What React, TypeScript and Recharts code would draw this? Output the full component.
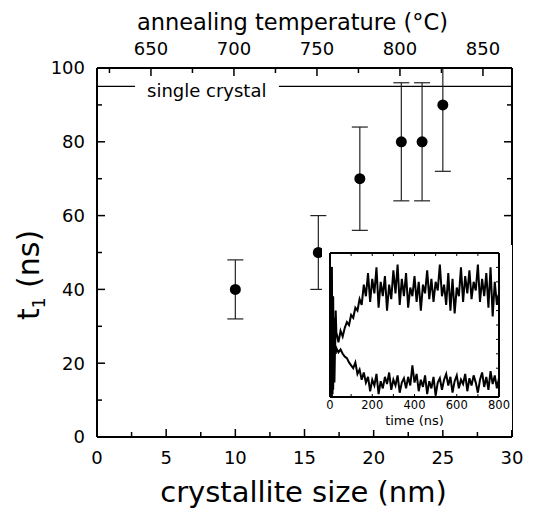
import React from "react"
import {
    ScatterChart,
    Scatter,
    ErrorBar,
    XAxis,
    YAxis,
    ReferenceLine,
    LineChart,
    Line,
} from "recharts"

const FONT = '"DejaVu Sans", "Liberation Sans", sans-serif'

// main panel: t1 vs crystallite size
const crystalliteSize = [10, 16, 19, 22, 23.5, 25]
const t1Values = [40, 50, 70, 80, 80, 90]
const t1ErrLow = [8, 10, 14, 16, 16, 18]
// last bar runs off the top of the frame, only the visible part is known
const t1ErrHigh = [8, 10, 14, 16, 16, 10]

const sizeTicks = [0, 2.5, 5, 7.5, 10, 12.5, 15, 17.5, 20, 22.5, 25, 27.5, 30]
const t1Ticks = [0, 10, 20, 30, 40, 50, 60, 70, 80, 90, 100]
const tempTicks = [625, 650, 675, 700, 725, 750, 775, 800, 825, 850]
const tempDomain = [617.5, 867.5]
const singleCrystal = 95

// inset: time traces
const timeNs = [
    0, 3, 6, 9, 12, 15, 18, 21, 24, 27, 30,
    40, 50, 60, 70, 80, 90, 100, 110, 120, 130,
    140, 150, 160, 170, 180, 190, 200, 210, 220, 230,
    240, 250, 260, 270, 280, 290, 300, 310, 320, 330,
    340, 350, 360, 370, 380, 390, 400, 410, 420, 430,
    440, 450, 460, 470, 480, 490, 500, 510, 520, 530,
    540, 550, 560, 570, 580, 590, 600, 610, 620, 630,
    640, 650, 660, 670, 680, 690, 700, 710, 720, 730,
    740, 750, 760, 770, 780, 790, 800,
]
const riseTrace = [
    0.05, 0.8, 0.1, 0.9, 0.02, 0.7, 0.15, 0.55, 0.3, 0.6, 0.45,
    0.38, 0.46, 0.42, 0.48, 0.52, 0.5, 0.57, 0.55, 0.62, 0.6,
    0.68, 0.64, 0.78, 0.7, 0.86, 0.66, 0.82, 0.72, 0.9, 0.62,
    0.8, 0.7, 0.84, 0.6, 0.78, 0.68, 0.88, 0.72, 0.92, 0.64,
    0.82, 0.7, 0.86, 0.62, 0.76, 0.7, 0.84, 0.66, 0.8, 0.6,
    0.78, 0.72, 0.88, 0.68, 0.82, 0.66, 0.8, 0.74, 0.92, 0.7,
    0.78, 0.64, 0.86, 0.6, 0.82, 0.58, 0.76, 0.7, 0.9, 0.66,
    0.84, 0.72, 0.88, 0.68, 0.8, 0.74, 0.92, 0.66, 0.82, 0.7,
    0.86, 0.62, 0.9, 0.56, 0.8, 0.64, 0.72,
]
const decayTrace = [
    0.6, 0.02, 0.7, 0.0, 0.5, 0.05, 0.42, 0.1, 0.36, 0.3, 0.34,
    0.31, 0.33, 0.3, 0.28, 0.27, 0.24, 0.22, 0.2, 0.24, 0.16,
    0.19, 0.12, 0.17, 0.1, 0.14, 0.04, 0.12, 0.08, 0.16, 0.02,
    0.11, 0.06, 0.14, 0.09, 0.17, 0.05, 0.12, 0.08, 0.15, 0.03,
    0.1, 0.13, 0.06, 0.14, 0.08, 0.22, 0.1, 0.16, 0.04, 0.12,
    0.07, 0.15, 0.02, 0.11, 0.06, 0.14, 0.01, 0.1, 0.13, 0.05,
    0.12, 0.16, 0.08, 0.14, 0.03, 0.11, 0.15, 0.06, 0.12, 0.09,
    0.16, 0.04, 0.13, 0.08, 0.15, 0.1, 0.03, 0.12, 0.17, 0.07,
    0.14, 0.05, 0.18, 0.09, 0.15, 0.06, 0.13,
]
const timeTicks = [0, 100, 200, 300, 400, 500, 600, 700, 800]
const insetYTicks = [0, 0.1, 0.2, 0.3, 0.4, 0.5, 0.6, 0.7, 0.8, 0.9, 1]

const points = crystalliteSize.map((s, i) => ({
    size: s,
    t1: t1Values[i],
    err: [t1ErrLow[i], t1ErrHigh[i]],
}))
// invisible anchor so the temperature axis gets a domain
const tempAnchor = tempTicks.map((t) => ({ temp: t, t1: 50 }))
const insetData = timeNs.map((t, i) => ({ t, rise: riseTrace[i], decay: decayTrace[i] }))

type TickProps = { x?: number; y?: number; payload?: { value: number } }

const BottomTick = ({ x = 0, y = 0, payload }: TickProps) => {
    const v = payload?.value ?? 0
    const major = v % 5 === 0
    return (
        <g>
            <line x1={x} x2={x} y1={y} y2={y - (major ? 8 : 5)} stroke="#000" strokeWidth={1.5} />
            {major && (
                <text x={x} y={y + 27} textAnchor="middle" fontSize={18} fontFamily={FONT} fill="#000">
                    {v}
                </text>
            )}
        </g>
    )
}

const TopTick = ({ x = 0, y = 0, payload }: TickProps) => {
    const v = payload?.value ?? 0
    const major = v % 50 === 0
    return (
        <g>
            <line x1={x} x2={x} y1={y} y2={y + (major ? 8 : 5)} stroke="#000" strokeWidth={1.5} />
            {major && (
                <text x={x} y={y - 13} textAnchor="middle" fontSize={18} fontFamily={FONT} fill="#000">
                    {v}
                </text>
            )}
        </g>
    )
}

const LeftTick = ({ x = 0, y = 0, payload }: TickProps) => {
    const v = payload?.value ?? 0
    const major = v % 20 === 0
    return (
        <g>
            <line x1={x} x2={x + (major ? 8 : 5)} y1={y} y2={y} stroke="#000" strokeWidth={1.5} />
            {major && (
                <text x={x - 12} y={y} dy="0.36em" textAnchor="end" fontSize={18} fontFamily={FONT} fill="#000">
                    {v}
                </text>
            )}
        </g>
    )
}

const RightTick = ({ x = 0, y = 0, payload }: TickProps) => {
    const v = payload?.value ?? 0
    const major = v % 20 === 0
    return <line x1={x} x2={x - (major ? 8 : 5)} y1={y} y2={y} stroke="#000" strokeWidth={1.5} />
}

const InsetBottomTick = ({ x = 0, y = 0, payload }: TickProps) => {
    const v = payload?.value ?? 0
    return (
        <g>
            <line x1={x} x2={x} y1={y} y2={y - 3} stroke="#000" strokeWidth={1} />
            {v % 200 === 0 && (
                <text x={x} y={y + 12} textAnchor="middle" fontSize={11.5} fontFamily={FONT} fill="#000">
                    {v}
                </text>
            )}
        </g>
    )
}
const InsetTopTick = ({ x = 0, y = 0 }: TickProps) => (
    <line x1={x} x2={x} y1={y} y2={y + 3} stroke="#000" strokeWidth={1} />
)
const InsetLeftTick = ({ x = 0, y = 0 }: TickProps) => (
    <line x1={x} x2={x + 3} y1={y} y2={y} stroke="#000" strokeWidth={1} />
)
const InsetRightTick = ({ x = 0, y = 0 }: TickProps) => (
    <line x1={x} x2={x - 3} y1={y} y2={y} stroke="#000" strokeWidth={1} />
)

const axisLine = { stroke: "#000", strokeWidth: 2 }

export default function App() {
    return (
        <div style={{ position: "absolute", left: 0, top: 0, width: 535, height: 510, background: "#fff", fontFamily: FONT }}>
            <ScatterChart width={535} height={510} margin={{ top: 28, right: 13, bottom: 33, left: 37 }}>
                <XAxis
                    dataKey="size"
                    type="number"
                    domain={[0, 30]}
                    ticks={sizeTicks}
                    interval={0}
                    allowDataOverflow
                    height={40}
                    tickSize={0}
                    tickMargin={0}
                    axisLine={axisLine}
                    tick={<BottomTick />}
                    label={{
                        content: (p: any) => (
                            <text x={p.viewBox.x + p.viewBox.width / 2 - 1} y={p.viewBox.y + 65} textAnchor="middle" fontSize={29} fontFamily={FONT} fill="#000">
                                crystallite size (nm)
                            </text>
                        ),
                    }}
                />
                <XAxis
                    xAxisId="temp"
                    dataKey="temp"
                    orientation="top"
                    type="number"
                    domain={tempDomain}
                    ticks={tempTicks}
                    interval={0}
                    allowDataOverflow
                    height={40}
                    tickSize={0}
                    tickMargin={0}
                    axisLine={axisLine}
                    tick={<TopTick />}
                    label={{
                        content: (p: any) => (
                            <text x={p.viewBox.x + p.viewBox.width / 2 - 12} y={p.viewBox.y + 2} textAnchor="middle" fontSize={22.5} fontFamily={FONT} fill="#000">
                                annealing temperature (°C)
                            </text>
                        ),
                    }}
                />
                <YAxis
                    dataKey="t1"
                    type="number"
                    domain={[0, 100]}
                    ticks={t1Ticks}
                    interval={0}
                    allowDataOverflow
                    width={60}
                    tickSize={0}
                    tickMargin={0}
                    axisLine={axisLine}
                    tick={<LeftTick />}
                    label={{
                        content: (p: any) => {
                            const lx = p.viewBox.x + 2
                            const ly = p.viewBox.y + 207
                            return (
                                <text x={lx} y={ly} transform={`rotate(-90, ${lx}, ${ly})`} textAnchor="middle" fontSize={30} fontFamily={FONT} fill="#000">
                                    t<tspan fontSize={17} dy={6}>1</tspan>
                                    <tspan dy={-6}> (ns)</tspan>
                                </text>
                            )
                        },
                    }}
                />
                <YAxis
                    yAxisId="right"
                    orientation="right"
                    type="number"
                    domain={[0, 100]}
                    ticks={t1Ticks}
                    interval={0}
                    allowDataOverflow
                    width={10}
                    tickSize={0}
                    tickMargin={0}
                    axisLine={axisLine}
                    tick={<RightTick />}
                />
                <ReferenceLine
                    segment={[{ x: 0, y: singleCrystal }, { x: 2.75, y: singleCrystal }]}
                    stroke="#000"
                    strokeWidth={1.2}
                    label={{
                        content: (p: any) => (
                            <text x={p.viewBox.x + p.viewBox.width + 12} y={p.viewBox.y + 11} fontSize={18} fontFamily={FONT} fill="#000">
                                single crystal
                            </text>
                        ),
                    }}
                />
                <ReferenceLine
                    segment={[{ x: 13.15, y: singleCrystal }, { x: 30, y: singleCrystal }]}
                    stroke="#000"
                    strokeWidth={1.2}
                />
                <Scatter
                    data={tempAnchor}
                    xAxisId="temp"
                    isAnimationActive={false}
                    legendType="none"
                    shape={() => <g />}
                />
                <Scatter
                    data={points}
                    isAnimationActive={false}
                    fill="#000"
                    shape={(p: any) => <circle cx={p.cx} cy={p.cy} r={5.5} fill="#000" />}
                >
                    <ErrorBar dataKey="err" direction="y" width={8} stroke="#222" strokeWidth={1.2} isAnimationActive={false} />
                </Scatter>
            </ScatterChart>

            <div style={{ position: "absolute", left: 322, top: 245, width: 190, height: 185, background: "#fff" }}>
                <LineChart width={190} height={185} data={insetData} margin={{ top: 4, right: 9, bottom: 3, left: 4 }}>
                    <XAxis
                        dataKey="t"
                        type="number"
                        domain={[0, 800]}
                        ticks={timeTicks}
                        interval={0}
                        allowDataOverflow
                        height={30}
                        tickSize={0}
                        tickMargin={0}
                        axisLine={axisLine}
                        tick={<InsetBottomTick />}
                        label={{
                            content: (p: any) => (
                                <text x={p.viewBox.x + p.viewBox.width / 2} y={p.viewBox.y + 28} textAnchor="middle" fontSize={13} fontFamily={FONT} fill="#000">
                                    time (ns)
                                </text>
                            ),
                        }}
                    />
                    <XAxis
                        xAxisId="top"
                        dataKey="t"
                        orientation="top"
                        type="number"
                        domain={[0, 800]}
                        ticks={timeTicks}
                        interval={0}
                        allowDataOverflow
                        height={4}
                        tickSize={0}
                        tickMargin={0}
                        axisLine={axisLine}
                        tick={<InsetTopTick />}
                    />
                    <YAxis
                        type="number"
                        domain={[0, 1]}
                        ticks={insetYTicks}
                        interval={0}
                        allowDataOverflow
                        width={4}
                        tickSize={0}
                        tickMargin={0}
                        axisLine={axisLine}
                        tick={<InsetLeftTick />}
                    />
                    <YAxis
                        yAxisId="r"
                        orientation="right"
                        type="number"
                        domain={[0, 1]}
                        ticks={insetYTicks}
                        interval={0}
                        allowDataOverflow
                        width={4}
                        tickSize={0}
                        tickMargin={0}
                        axisLine={axisLine}
                        tick={<InsetRightTick />}
                    />
                    <Line dataKey="rise" type="linear" stroke="#000" strokeWidth={2} dot={false} activeDot={false} isAnimationActive={false} />
                    <Line dataKey="decay" type="linear" stroke="#000" strokeWidth={2} dot={false} activeDot={false} isAnimationActive={false} />
                </LineChart>
            </div>
        </div>
    )
}
